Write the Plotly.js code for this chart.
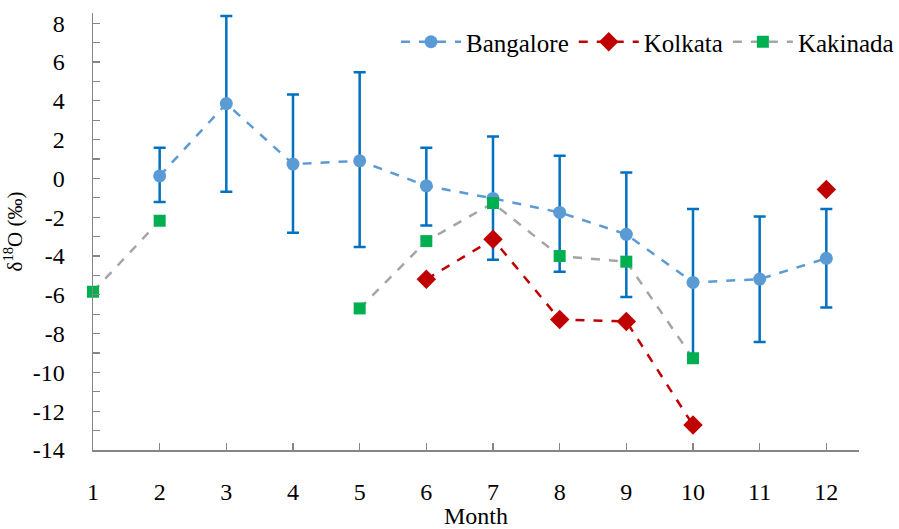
<!DOCTYPE html>
<html>
<head>
<meta charset="utf-8">
<script src="https://cdn.plot.ly/plotly-3.0.1.min.js"></script>
<style>html,body{margin:0;padding:0;background:#fff;}#chart{width:899px;height:529px;}</style>
</head>
<body>
<div id="chart"></div>
<script>
const months = [1,2,3,4,5,6,7,8,9,10,11,12];
const monthLabels = ["1","2","3","4","5","6","7","8","9","10","11","12"];
const yTickVals = [8,6,4,2,0,-2,-4,-6,-8,-10,-12,-14];
const yTickLabels = ["8","6","4","2","0","-2","-4","-6","-8","-10","-12","-14"];
const bangalore = [null, 0.13, 3.86, 0.74, 0.91, -0.38, -1.03, -1.75, -2.88, -5.36, -5.19, -4.12];
const bangaloreUpper = [null, 1.58, 8.38, 4.33, 5.48, 1.58, 2.16, 1.17, 0.31, -1.57, -1.96, -1.57];
const bangaloreLower = [null, -1.22, -0.69, -2.80, -3.54, -2.42, -4.19, -4.81, -6.11, -9.2, -8.43, -6.65];
const kolkata = [null, null, null, null, null, -5.2, -3.13, -7.27, -7.37, -12.71, null, -0.57];
const kakinada = [-5.84, -2.18, null, null, -6.70, -3.23, -1.27, -4.0, -4.29, -9.27, null, null];

const errPlus = bangalore.map((v,i)=> v===null ? null : bangaloreUpper[i]-v);
const errMinus = bangalore.map((v,i)=> v===null ? null : v-bangaloreLower[i]);

const FAM = "Liberation Serif";
const FAM2 = "Times New Roman";
function f(size, fam){ return {family: fam || FAM, size: size, color: "#000"}; }

const traces = [
  {
    x: months, y: bangalore, name: "Bangalore", type: "scatter", mode: "lines+markers",
    line: {color: "#5B9BD5", width: 2.5, dash: "dash"},
    marker: {symbol: "circle", size: 13, color: "#5B9BD5"},
    error_y: {type: "data", symmetric: false, array: errPlus, arrayminus: errMinus,
              color: "#0070C0", thickness: 2.5, width: 6},
    connectgaps: false, cliponaxis: false
  },
  {
    x: months, y: kolkata, name: "Kolkata", type: "scatter", mode: "lines+markers",
    line: {color: "#C00000", width: 2.5, dash: "dash"},
    marker: {symbol: "diamond", size: 15, color: "#C00000"},
    connectgaps: false, cliponaxis: false
  },
  {
    x: months, y: kakinada, name: "Kakinada", type: "scatter", mode: "lines+markers",
    line: {color: "#A5A5A5", width: 2.5, dash: "dash"},
    marker: {symbol: "square", size: 12, color: "#00B050"},
    connectgaps: false, cliponaxis: false
  }
];

const layout = {
  width: 899, height: 529,
  paper_bgcolor: "#fff", plot_bgcolor: "#fff",
  margin: {l: 93, r: 40, t: 13, b: 79, autoexpand: false},
  font: f(23, FAM2),
  showlegend: true,
  legend: {
    orientation: "h", xref: "container", yref: "container",
    x: 1.0, xanchor: "right", y: 1 - 42/529, yanchor: "middle",
    font: f(25, FAM2),
    bgcolor: "rgba(0,0,0,0)", itemwidth: 60, tracegroupgap: 0
  },
  xaxis: {
    range: [1, 12.49], tickvals: months, ticktext: monthLabels,
    showgrid: false, zeroline: false, showline: true, linecolor: "#868686", linewidth: 1.5,
    ticks: "inside", ticklen: 7, tickcolor: "#868686", tickwidth: 1.2,
    ticklabelstandoff: 20,
    tickfont: f(24, FAM2),
    title: {text: "Month", font: f(24), standoff: 2}
  },
  yaxis: {
    range: [-14, 8.53], tickvals: yTickVals, ticktext: yTickLabels,
    showgrid: false, zeroline: false, showline: true, linecolor: "#868686", linewidth: 1.5,
    ticks: "inside", ticklen: 7, tickcolor: "#868686", tickwidth: 1.2,
    minor: {dtick: 1, tick0: 0, ticks: "inside", ticklen: 7, tickcolor: "#868686", tickwidth: 1.2, showgrid: false},
    ticklabelstandoff: 22,
    tickfont: f(24, FAM2),
    title: {text: "δ<sup>18</sup>O (‰)", font: f(21), standoff: 8}
  }
};

Plotly.newPlot("chart", traces, layout, {displayModeBar: false, staticPlot: true});
</script>
</body>
</html>
